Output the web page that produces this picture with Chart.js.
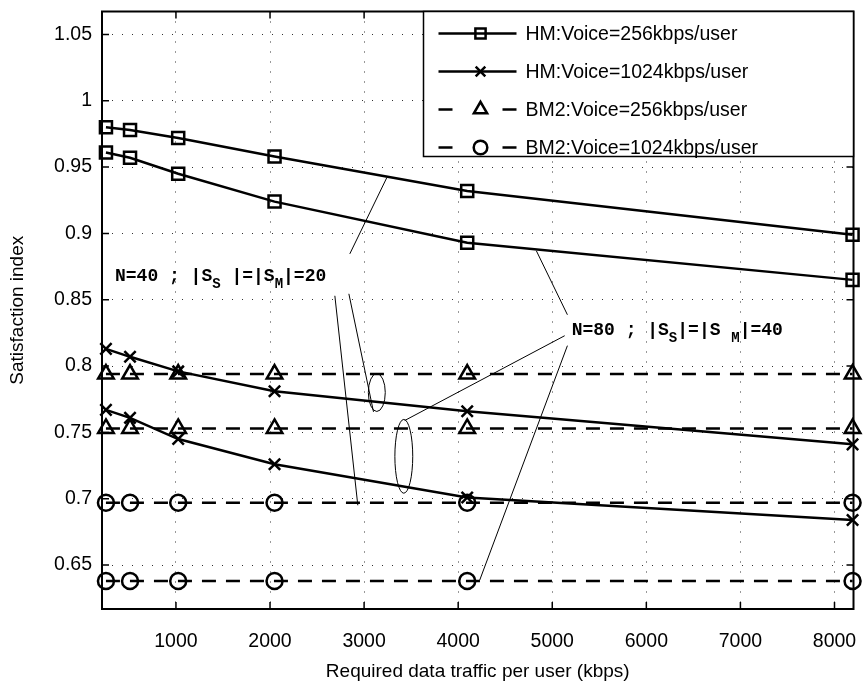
<!DOCTYPE html>
<html>
<head>
<meta charset="utf-8">
<script src="https://cdn.jsdelivr.net/npm/chart.js@4.4.0/dist/chart.umd.min.js"></script>
<style>
  html, body { margin: 0; padding: 0; background: #ffffff; }
  #wrap { width: 865px; height: 692px; }
</style>
</head>
<body>
<div id="wrap"><canvas id="c" width="865" height="692"></canvas></div>
<script>
// ---------------- DATA ----------------
const trafficKbps = [256, 512, 1024, 2048, 4096, 8192];

// HM, voice = 256 kbps/user (upper: N=40, lower: N=80)
const hmVoice256_N40 = [0.980, 0.978, 0.972, 0.958, 0.932, 0.899];
const hmVoice256_N80 = [0.961, 0.957, 0.945, 0.924, 0.893, 0.865];
// HM, voice = 1024 kbps/user
const hmVoice1024_N40 = [0.813, 0.807, 0.796, 0.781, 0.766, 0.741];
const hmVoice1024_N80 = [0.767, 0.761, 0.745, 0.726, 0.701, 0.684];
// BM2, voice = 256 kbps/user
const bm2Voice256_N40 = [0.794, 0.794, 0.794, 0.794, 0.794, 0.794];
const bm2Voice256_N80 = [0.753, 0.753, 0.753, 0.753, 0.753, 0.753];
// BM2, voice = 1024 kbps/user
const bm2Voice1024_N40 = [0.697, 0.697, 0.697, 0.697, 0.697, 0.697];
const bm2Voice1024_N80 = [0.638, 0.638, 0.638, 0.638, 0.638, 0.638];

const seriesLabels = [
  'HM:Voice=256kbps/user',
  'HM:Voice=1024kbps/user',
  'BM2:Voice=256kbps/user',
  'BM2:Voice=1024kbps/user'
];
const xTickValues = [1000, 2000, 3000, 4000, 5000, 6000, 7000, 8000];
const yTickValues = [0.65, 0.7, 0.75, 0.8, 0.85, 0.9, 0.95, 1, 1.05];
const xAxisTitle = 'Required data traffic per user (kbps)';
const yAxisTitle = 'Satisfaction index';

const labelN40 = [
  { t: 'N=40 ; |S' }, { t: 'S', sub: true }, { t: ' |=|S' }, { t: 'M', sub: true }, { t: '|=20' }
];
const labelN80 = [
  { t: 'N=80 ; |S' }, { t: 'S', sub: true }, { t: '|=|S ' }, { t: 'M', sub: true }, { t: '|=40' }
];

// ---------------- STYLES ----------------
const FONT = '"Liberation Sans", Arial, Helvetica, sans-serif';
const styles = [
  { pointStyle: 'rect', pointRadius: 8.5, borderDash: [] },
  { pointStyle: 'crossRot', pointRadius: 8, borderDash: [] },
  { pointStyle: 'triangle', pointRadius: 9, borderDash: [14, 10] },
  { pointStyle: 'circle', pointRadius: 8, borderDash: [14, 10] }
];

function makeDataset(values, group, inLegend) {
  const st = styles[group];
  return {
    label: seriesLabels[group],
    data: trafficKbps.map((x, i) => ({ x: x, y: values[i] })),
    borderColor: '#000',
    borderWidth: 2.5,
    borderDash: st.borderDash,
    pointStyle: st.pointStyle,
    pointRadius: st.pointRadius,
    pointBorderWidth: 2.5,
    pointBorderColor: '#000',
    pointBackgroundColor: 'rgba(0,0,0,0)',
    tension: 0,
    fill: false,
    clip: false,
    inLegend: inLegend,
    group: group
  };
}

const datasets = [
  makeDataset(hmVoice256_N40, 0, true),
  makeDataset(hmVoice256_N80, 0, false),
  makeDataset(hmVoice1024_N40, 1, true),
  makeDataset(hmVoice1024_N80, 1, false),
  makeDataset(bm2Voice256_N40, 2, true),
  makeDataset(bm2Voice256_N80, 2, false),
  makeDataset(bm2Voice1024_N40, 3, true),
  makeDataset(bm2Voice1024_N80, 3, false)
];

// ---------------- PLUGINS ----------------
// Axes box with inward ticks (MATLAB style)
const framePlugin = {
  id: 'frame',
  afterDatasetsDraw(chart) {
    const { ctx, chartArea: a, scales } = chart;
    ctx.save();
    ctx.strokeStyle = '#000';
    ctx.lineWidth = 1.5;
    const tl = 7;
    ctx.beginPath();
    scales.x.ticks.forEach(t => {
      const px = scales.x.getPixelForValue(t.value);
      ctx.moveTo(px, a.bottom); ctx.lineTo(px, a.bottom - tl);
      ctx.moveTo(px, a.top); ctx.lineTo(px, a.top + tl);
    });
    scales.y.ticks.forEach(t => {
      const py = scales.y.getPixelForValue(t.value);
      ctx.moveTo(a.left, py); ctx.lineTo(a.left + tl, py);
      ctx.moveTo(a.right, py); ctx.lineTo(a.right - tl, py);
    });
    ctx.stroke();
    ctx.lineWidth = 2;
    ctx.strokeRect(a.left, a.top, a.right - a.left, a.bottom - a.top);
    ctx.restore();
  }
};

// Annotation callouts, positioned in data units through the scales
const annotations = {
  lines: [
    [2848, 0.8846, 3241, 0.942],
    [2689, 0.853, 2933, 0.6951],
    [2838, 0.8545, 3100, 0.7655],
    [5161, 0.8387, 4831, 0.8869],
    [5132, 0.8229, 3432, 0.7590],
    [5161, 0.8154, 4229, 0.6387]
  ],
  ellipses: [
    { x: 3135, y: 0.7801, rx: 90, ry: 0.0143 },
    { x: 3422, y: 0.7320, rx: 95, ry: 0.0278 }
  ],
  texts: [
    { x: 352, y: 0.8673, segs: labelN40 },
    { x: 5206, y: 0.8267, segs: labelN80 }
  ]
};

function drawRich(ctx, segs, x, y, size) {
  let cx = x;
  ctx.textBaseline = 'middle';
  ctx.textAlign = 'left';
  for (const s of segs) {
    const fs = s.sub ? size * 0.78 : size;
    ctx.font = 'bold ' + fs + 'px "Liberation Mono", "Courier New", monospace';
    ctx.fillText(s.t, cx, y + (s.sub ? size * 0.45 : 0));
    cx += ctx.measureText(s.t).width;
  }
}

const annotationPlugin = {
  id: 'callouts',
  afterDatasetsDraw(chart) {
    const { ctx, scales } = chart;
    const X = v => scales.x.getPixelForValue(v);
    const Y = v => scales.y.getPixelForValue(v);
    ctx.save();
    ctx.strokeStyle = '#000';
    ctx.fillStyle = '#000';
    ctx.lineWidth = 1;
    ctx.beginPath();
    annotations.lines.forEach(l => {
      ctx.moveTo(X(l[0]), Y(l[1]));
      ctx.lineTo(X(l[2]), Y(l[3]));
    });
    ctx.stroke();
    annotations.ellipses.forEach(e => {
      const cx = X(e.x), cy = Y(e.y);
      const rx = Math.abs(X(e.x + e.rx) - cx);
      const ry = Math.abs(Y(e.y + e.ry) - cy);
      ctx.beginPath();
      ctx.ellipse(cx, cy, rx, ry, 0, 0, Math.PI * 2);
      ctx.stroke();
    });
    annotations.texts.forEach(t => drawRich(ctx, t.segs, X(t.x), Y(t.y), 18));
    ctx.restore();
  }
};

// Boxed legend inside the top-right of the axes
const legendPlugin = {
  id: 'boxLegend',
  afterDraw(chart) {
    const { ctx, chartArea: a } = chart;
    const w = 430, h = 145;
    const x0 = a.right - w, y0 = a.top;
    ctx.save();
    ctx.fillStyle = '#fff';
    ctx.fillRect(x0, y0, w, h);
    ctx.strokeStyle = '#000';
    ctx.lineWidth = 1.5;
    ctx.strokeRect(x0, y0, w, h);
    const rows = [22, 60, 98, 136];
    let row = 0;
    chart.data.datasets.forEach(ds => {
      if (!ds.inLegend) return;
      const cy = y0 + rows[row++];
      const lx1 = x0 + 15, lx2 = x0 + 93, mx = x0 + 57;
      ctx.strokeStyle = '#000';
      ctx.lineWidth = ds.borderWidth;
      ctx.setLineDash([]);
      ctx.beginPath();
      if (ds.borderDash && ds.borderDash.length) {
        ctx.moveTo(lx1, cy); ctx.lineTo(lx1 + 14, cy);
        ctx.moveTo(lx2 - 14, cy); ctx.lineTo(lx2, cy);
      } else {
        ctx.moveTo(lx1, cy); ctx.lineTo(lx2, cy);
      }
      ctx.stroke();
      ctx.fillStyle = 'rgba(0,0,0,0)';
      ctx.lineWidth = ds.pointBorderWidth;
      Chart.helpers.drawPoint(ctx, {
        pointStyle: ds.pointStyle, radius: ds.pointRadius * 0.85,
        borderWidth: ds.pointBorderWidth, rotation: 0
      }, mx, cy);
      ctx.fillStyle = '#000';
      ctx.font = '19.5px ' + FONT;
      ctx.textBaseline = 'middle';
      ctx.textAlign = 'left';
      ctx.fillText(ds.label, x0 + 102, cy + 1);
    });
    ctx.restore();
  }
};

// ---------------- CHART ----------------
new Chart(document.getElementById('c'), {
  type: 'line',
  data: { datasets: datasets },
  options: {
    responsive: false,
    animation: false,
    devicePixelRatio: 1,
    layout: { padding: { top: 10, right: 11, left: 0, bottom: 0 } },
    plugins: { legend: { display: false }, tooltip: { enabled: false } },
    scales: {
      x: {
        type: 'linear',
        min: 214,
        max: 8202,
        afterFit: s => { s.height = 83; s.paddingLeft = 0; s.paddingRight = 0; },
        afterBuildTicks: s => { s.ticks = xTickValues.map(v => ({ value: v })); },
        ticks: {
          autoSkip: false,
          maxRotation: 0,
          padding: 21,
          color: '#000',
          font: { family: FONT, size: 19.5 },
          callback: v => String(v)
        },
        grid: { color: '#333', lineWidth: 1, drawTicks: false },
        border: { display: false, dash: [1, 9] },
        title: {
          display: true, text: xAxisTitle, color: '#000',
          font: { family: FONT, size: 19 },
          padding: { top: 0, bottom: 9 }
        }
      },
      y: {
        type: 'linear',
        min: 0.6169,
        max: 1.0673,
        afterFit: s => { s.width = 102; s.paddingTop = 0; s.paddingBottom = 0; },
        afterBuildTicks: s => { s.ticks = yTickValues.map(v => ({ value: v })); },
        ticks: {
          autoSkip: false,
          padding: 10,
          color: '#000',
          font: { family: FONT, size: 19.5 },
          callback: v => String(+Number(v).toFixed(2))
        },
        grid: { color: '#333', lineWidth: 1, drawTicks: false },
        border: { display: false, dash: [1, 9] },
        title: {
          display: true, text: yAxisTitle, color: '#000',
          font: { family: FONT, size: 19 },
          padding: { top: 6, bottom: 0 }
        }
      }
    }
  },
  plugins: [framePlugin, annotationPlugin, legendPlugin]
});
</script>
</body>
</html>
